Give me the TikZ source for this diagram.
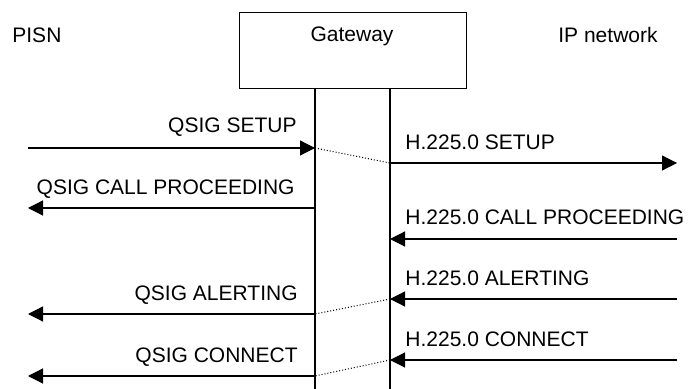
\documentclass[tikz,border=0pt]{standalone}
\usepackage{fontspec}
\setmainfont{Liberation Sans}
\usetikzlibrary{arrows.meta}

\begin{document}
\begin{tikzpicture}[x=0.5pt,y=-0.5pt,font=\fontsize{10.5}{12}\selectfont,
		msg/.style={-{Triangle[length=7.5pt,width=7.5pt]},line width=0.6pt},
		link/.style={densely dotted,line width=0.5pt},
		qlbl/.style={anchor=base east,inner sep=0pt},
		hlbl/.style={anchor=base west,inner sep=0pt}]
		\useasboundingbox (0,0) rectangle (690,389);
		% parties
		\node[anchor=west,inner sep=0pt] (pisn) at (12,35) {PISN};
		\node[anchor=west,inner sep=0pt] (ipnet) at (558,35) {IP network};
		\node[draw,line width=0.6pt,minimum width=113.5pt,minimum height=38pt,inner sep=0pt,anchor=north west] (gw) at (239,12) {};
		\node (gwname) at (352,36) {Gateway};
		\coordinate (qend) at (315,389);
		\coordinate (hend) at (390,389);
		\draw[line width=0.6pt] (gw.south -| qend)--(qend);
		\draw[line width=0.6pt] (gw.south -| hend)--(hend);
		% points on the lifelines
		\coordinate (qsetup) at (315,148);
		\coordinate (qproc) at (315,208);
		\coordinate (qalert) at (315,314);
		\coordinate (qconn) at (315,376);
		\coordinate (hsetup) at (390,163);
		\coordinate (hproc) at (390,239);
		\coordinate (halert) at (390,299);
		\coordinate (hconn) at (390,360);
		% outer ends
		\coordinate (psetup) at (28,148);
		\coordinate (pproc) at (28,208);
		\coordinate (palert) at (28,314);
		\coordinate (pconn) at (28,376);
		\coordinate (isetup) at (677,163);
		\coordinate (iproc) at (677,239);
		\coordinate (ialert) at (677,299);
		\coordinate (iconn) at (677,360);
		% messages
		\draw[msg] (psetup)--(qsetup);
		\draw[msg] (hsetup)--(isetup);
		\draw[msg] (qproc)--(pproc);
		\draw[msg] (iproc)--(hproc);
		\draw[msg] (ialert)--(halert);
		\draw[msg] (qalert)--(palert);
		\draw[msg] (iconn)--(hconn);
		\draw[msg] (qconn)--(pconn);
		\draw[link] (qsetup)--(hsetup);
		\draw[link] (halert)--(qalert);
		\draw[link] (hconn)--(qconn);
		% labels
		\node[qlbl] (lqsetup) at ([shift={(-18,-15)}]qsetup) {QSIG SETUP};
		\node[qlbl] (lqproc) at ([shift={(-20,-13)}]qproc) {QSIG CALL PROCEEDING};
		\node[qlbl] (lqalert) at ([shift={(-17,-13)}]qalert) {QSIG ALERTING};
		\node[qlbl] (lqconn) at ([shift={(-17,-13)}]qconn) {QSIG CONNECT};
		\node[hlbl] (lhsetup) at ([shift={(15,-13)}]hsetup) {H.225.0 SETUP};
		\node[hlbl] (lhproc) at ([shift={(15,-14)}]hproc) {H.225.0 CALL PROCEEDING};
		\node[hlbl] (lhalert) at ([shift={(15,-13)}]halert) {H.225.0 ALERTING};
		\node[hlbl] (lhconn) at ([shift={(15,-13)}]hconn) {H.225.0 CONNECT};
	\end{tikzpicture}
\end{document}
